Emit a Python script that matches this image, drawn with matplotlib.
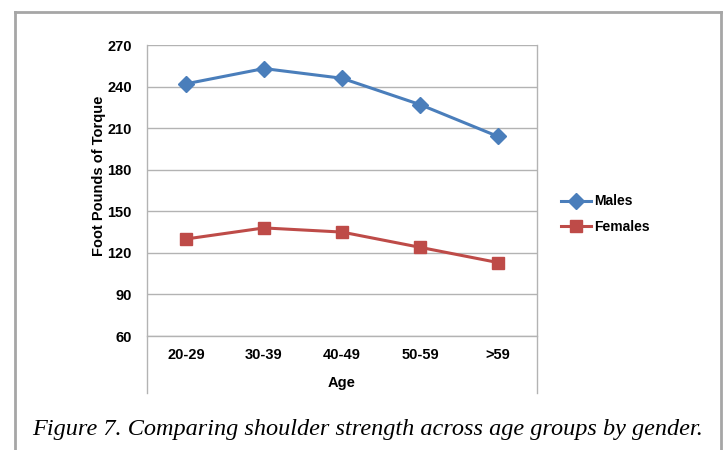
import matplotlib.pyplot as plt
from matplotlib.lines import Line2D

edades = ['20-29', '30-39', '40-49', '50-59', '>59']
hombres = [242, 253, 246, 227, 204]
mujeres = [130, 138, 135, 124, 113]
ticks_y = [60, 90, 120, 150, 180, 210, 240, 270]

plt.rcParams['font.family'] = ['Liberation Sans', 'DejaVu Sans']

W, H = 723, 450
fig = plt.figure(figsize=(W / 100, H / 100), dpi=100)
fig.patch.set_facecolor('white')

# caja exterior (sin borde inferior)
gris = '#a6a6a6'
fig.add_artist(Line2D([15 / W, 15 / W], [0, 1 - 12 / H], color=gris, lw=2))
fig.add_artist(Line2D([15 / W, 721 / W], [1 - 12 / H, 1 - 12 / H], color=gris, lw=2))
fig.add_artist(Line2D([721 / W, 721 / W], [0, 1 - 12 / H], color=gris, lw=2))

x0, x1, y0, y1 = 147, 537, 45, 336
ax = fig.add_axes([x0 / W, 1 - y1 / H, (x1 - x0) / W, (y1 - y0) / H])
x = range(len(edades))
ax.plot(x, hombres, color='#4a7ebb', lw=2.2, marker='D', markersize=8, label='Males')
ax.plot(x, mujeres, color='#be4b48', lw=2.2, marker='s', markersize=8.5, label='Females')

ax.set_xlim(-0.5, len(edades) - 0.5)
ax.set_ylim(60, 270)
ax.set_yticks(ticks_y)
ax.set_yticklabels([str(t) for t in ticks_y], fontsize=10.5, fontweight='bold')
ax.grid(axis='y', color='#b3b3b3', lw=1)
ax.set_axisbelow(True)
ax.tick_params(axis='y', length=0, pad=11)
ax.tick_params(axis='x', length=0)
ax.set_xticks([])
for s in ['top', 'right', 'left', 'bottom']:
    ax.spines[s].set_visible(False)

# lineas verticales que bajan hasta el rotulo del eje
ext = -(393 - y1) / (y1 - y0)
for xx in [0, 1]:
    ax.add_line(Line2D([xx, xx], [ext, 1], transform=ax.transAxes, color='#b3b3b3', lw=1, clip_on=False))
ax.add_line(Line2D([0, 1], [0, 0], transform=ax.transAxes, color='#b3b3b3', lw=1, clip_on=False))

for i, e in enumerate(edades):
    ax.text(i, -(355 - y1) / (y1 - y0), e, transform=ax.get_xaxis_transform(),
            ha='center', va='center', fontsize=10.5, fontweight='bold')
ax.text(0.5, -(383 - y1) / (y1 - y0), 'Age', transform=ax.transAxes,
        ha='center', va='center', fontsize=10.5, fontweight='bold')
fig.text(99 / W, 1 - 176 / H, 'Foot Pounds of Torque', rotation=90,
         ha='center', va='center', fontsize=10.5, fontweight='bold')

fig.legend(loc='center left', bbox_to_anchor=(548 / W, 1 - 214 / H), frameon=False,
           prop={'size': 10, 'weight': 'bold'}, handlelength=2.2, handletextpad=0.2,
           labelspacing=0.8)

fig.text(368 / W, 1 - 430 / H, 'Figure 7. Comparing shoulder strength across age groups by gender.',
         ha='center', va='center', fontsize=17.5, style='italic', family='Liberation Serif')

fig.savefig('out.png', dpi=100)
